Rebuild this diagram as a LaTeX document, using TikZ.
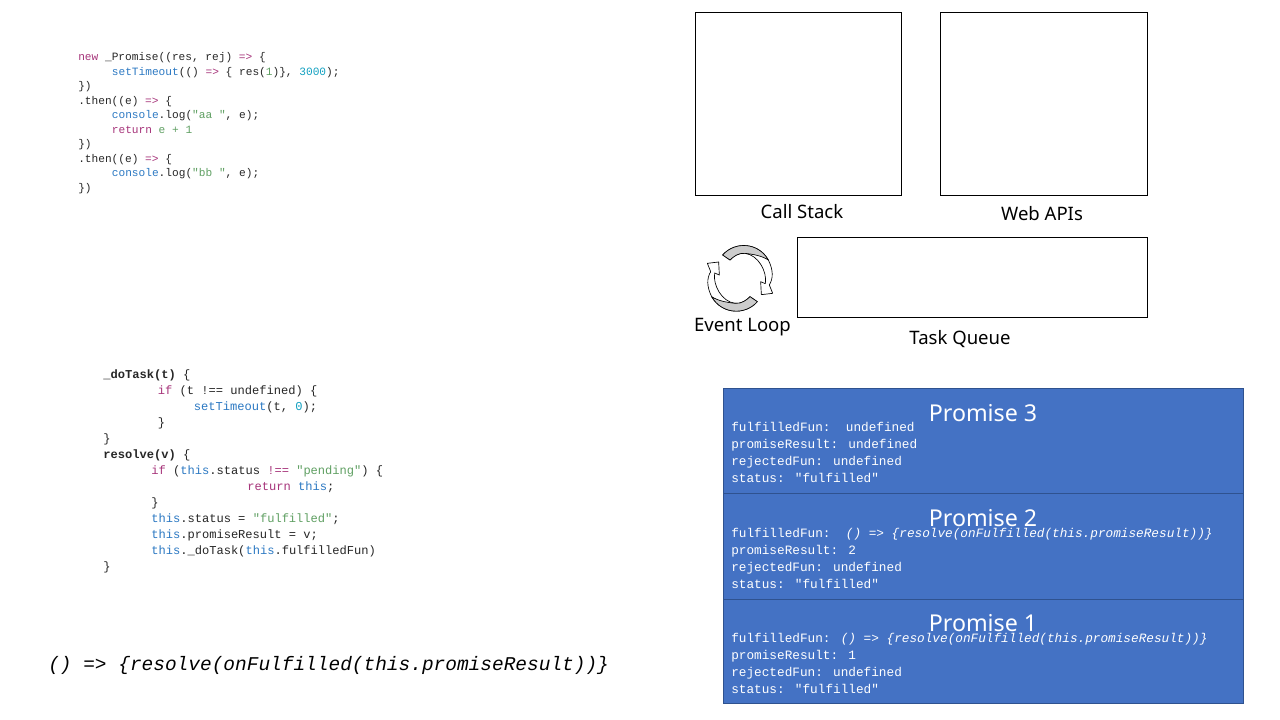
\documentclass[tikz,border=0pt]{standalone}
\usepackage{fontspec}
\setmainfont{Noto Sans}
\newfontfamily\cod{Liberation Mono}
\definecolor{kw}{HTML}{A6347A}
\definecolor{fn}{HTML}{2B78C2}
\definecolor{nm}{HTML}{12A0C0}
\definecolor{st}{HTML}{5F9F62}
\definecolor{pfill}{HTML}{4472C4}
\definecolor{pline}{HTML}{2F528F}
\newcommand\K[1]{\textcolor{kw}{#1}}
\newcommand\F[1]{\textcolor{fn}{#1}}
\newcommand\N[1]{\textcolor{nm}{#1}}
\newcommand\Sg[1]{\textcolor{st}{#1}}
\newcommand\ind[1]{\hspace*{#1pt}}
\newcommand\lam{\textit{()~=>~\{resolve(onFulfilled(this.promiseResult))\}}}
\tikzset{
  x=0.75pt,y=-0.75pt,
  frame/.style={draw=black,line width=0.75pt,fill=white},
  promise/.style={draw=pline,line width=0.75pt,fill=pfill},
  label/.style={inner sep=0,font=\fontsize{13.9}{16}\selectfont,text=black},
  ptitle/.style={inner sep=0,font=\fontsize{17.4}{20}\selectfont,text=white},
  ptext/.style={inner sep=0,anchor=north west,align=left,text=white,font=\cod\fontsize{9.55}{12.75}\selectfont},
  codeA/.style={inner sep=0,anchor=north west,align=left,text=black!85,font=\cod\fontsize{8.37}{10.875}\selectfont},
  codeB/.style={inner sep=0,anchor=north west,align=left,text=black!85,font=\cod\fontsize{9.06}{12}\selectfont},
  lamtext/.style={inner sep=0,anchor=west,text=black,font=\cod\fontsize{14.6}{16}\selectfont},
  loopline/.style={draw=black,line width=0.5pt,line join=round},
}
\newcommand\looparrow{%
  \path[loopline,fill=white]
    (98,60) .. controls (135,18) and (205,22) .. (235,75)
    .. controls (250,105) and (250,130) .. (238,150)
    -- (248,175) -- (214,179) -- (212,140) -- (226,146)
    .. controls (232,110) and (205,60) .. (165,55)
    .. controls (145,53) and (130,65) .. (120,75) -- cycle;
  \path[loopline,fill=black!20]
    (98,60) .. controls (135,18) and (205,22) .. (235,75)
    .. controls (215,62) and (190,58) .. (165,55)
    .. controls (145,53) and (130,65) .. (120,75) -- cycle;
}
\begin{document}
\begin{tikzpicture}
\useasboundingbox (0,0) rectangle (1280,720);
\node[codeA] (code1) at (78,52.5) {%
\K{new} \_Promise((res, rej) \K{=>} \{\\
\ind{25.2}\F{setTimeout}(() \K{=>} \{ res(\Sg{1})\}, \N{3000});\\
\})\\
.then((e) \K{=>} \{\\
\ind{25.2}\F{console}.log(\Sg{"aa "}, e);\\
\ind{25.2}\K{return} \Sg{e + 1}\\
\})\\
.then((e) \K{=>} \{\\
\ind{25.2}\F{console}.log(\Sg{"bb "}, e);\\
\})};
\node[codeB] (code2) at (103,369) {%
\textbf{\_doTask(t)} \{\\
\ind{41}\K{if} (t !== undefined) \{\\
\ind{68}\F{setTimeout}(t, \N{0});\\
\ind{41}\}\\
\}\\
\textbf{resolve(v)} \{\\
\ind{36}\K{if} (\F{this}.status \K{!==} \Sg{"pending"}) \{\\
\ind{108}\K{return} \F{this};\\
\ind{36}\}\\
\ind{36}\F{this}.status = \Sg{"fulfilled"};\\
\ind{36}\F{this}.promiseResult = v;\\
\ind{36}\F{this}.\_doTask(\F{this}.fulfilledFun)\\
\}};
\node[lamtext] (lam) at (48,665) {\lam};

\draw[frame] (695,12.5) rectangle (901,195.5);
\draw[frame] (940,12.5) rectangle (1147,195.5);
\draw[frame] (797,237.5) rectangle (1147,317.5);
\node[label] (call) at (802,212) {Call Stack};
\node[label] (web) at (1042,214) {Web APIs};
\node[label] (ev) at (742.5,327) {Event Loop};
\node[label] (task) at (960,339) {Task Queue};

\begin{scope}[shift={(690,235)},x=0.25pt,y=-0.25pt]
  \looparrow
  \begin{scope}[shift={(300,260)},x=-0.25pt,y=0.25pt]
    \looparrow
  \end{scope}
\end{scope}

\draw[promise] (723.5,388.5) rectangle (1243.5,493.5);
\draw[promise] (723.5,493.5) rectangle (1243.5,599.5);
\draw[promise] (723.5,599.5) rectangle (1243.5,703.5);
\node[ptitle] (p3) at (983,413) {Promise 3};
\node[ptitle] (p2) at (983,518) {Promise 2};
\node[ptitle] (p1) at (983,623) {Promise 1};
\node[ptext] (t3) at (731,422.5) {fulfilledFun:~~undefined\\promiseResult: undefined\\rejectedFun: undefined\\status: "fulfilled"};
\node[ptext] (t2) at (731,528.5) {fulfilledFun:~~\lam\\promiseResult: 2\\rejectedFun: undefined\\status: "fulfilled"};
\node[ptext] (t1) at (731,632.5) {fulfilledFun: \lam\\promiseResult: 1\\rejectedFun: undefined\\status: "fulfilled"};
\end{tikzpicture}
\end{document}
